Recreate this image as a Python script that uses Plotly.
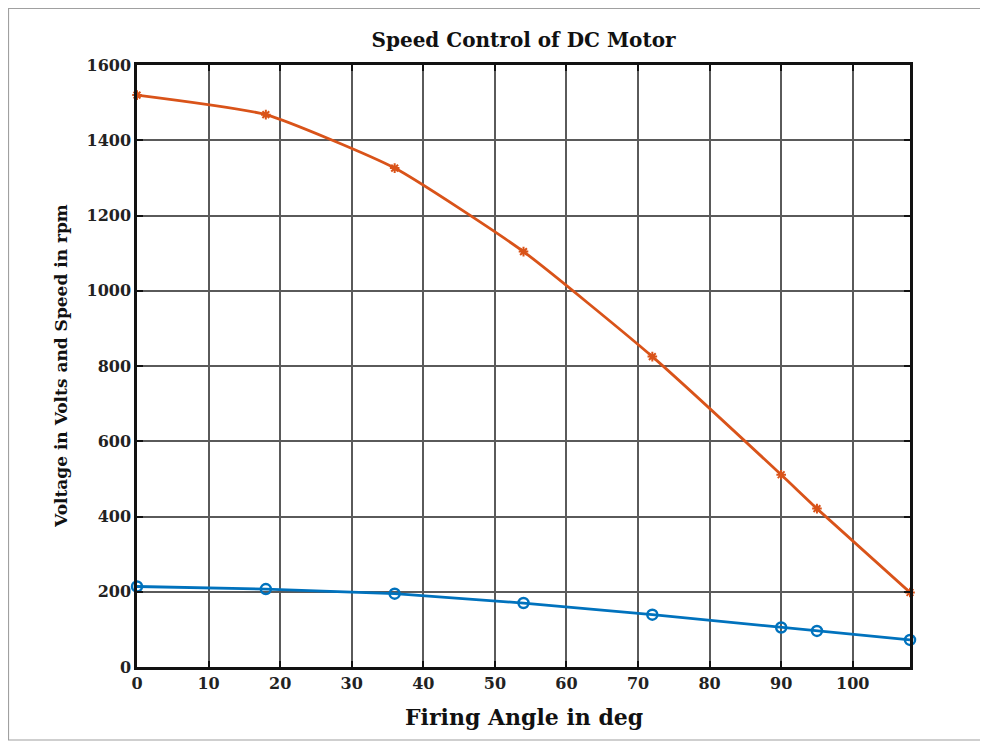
import plotly.graph_objects as go

angle = [0, 18, 36, 54, 72, 90, 95, 108]
speed = [1520, 1468, 1326, 1104, 825, 511, 421, 198]
voltage = [214, 207, 195, 170, 139, 105, 96, 72]
x_ticks = [0, 10, 20, 30, 40, 50, 60, 70, 80, 90, 100]
y_ticks = [0, 200, 400, 600, 800, 1000, 1200, 1400, 1600]

# page body has an 8px margin, so figure coordinates are offset by 8px
W, H = 980, 734
L, R, T, B = 129, 902, 57, 659

font_fam = "DejaVu Serif, Liberation Serif, serif"

fig = go.Figure()
fig.add_trace(go.Scatter(
    x=angle, y=speed, mode="lines+markers",
    line=dict(color="#D95319", width=2.8, shape="spline", smoothing=0.5),
    marker=dict(symbol="asterisk-open", size=8, color="#D95319",
                line=dict(color="#D95319", width=2)),
    showlegend=False, cliponaxis=False))
fig.add_trace(go.Scatter(
    x=angle, y=voltage, mode="lines+markers",
    line=dict(color="#0072BD", width=2.8),
    marker=dict(symbol="circle-open", size=10, color="#0072BD",
                line=dict(color="#0072BD", width=2.5)),
    showlegend=False, cliponaxis=False))

def px(x):
    return (x - L) / (R - L)

def py(y):
    return (B - y) / (B - T)

fig.add_shape(type="rect", xref="paper", yref="paper",
              x0=px(0.5), x1=px(990), y0=py(0.5), y1=py(732),
              line=dict(color="#a0a0a0", width=1.2), layer="below")

fig.add_annotation(text="<b>Firing Angle in deg</b>", xref="paper", yref="paper",
                   x=0.5, y=py(709), xanchor="center", yanchor="middle",
                   showarrow=False, font=dict(size=22, family=font_fam, color="#111"))
fig.add_annotation(text="<b>Voltage in Volts and Speed in rpm</b>", xref="paper", yref="paper",
                   x=px(53), y=0.5, xanchor="center", yanchor="middle", textangle=-90,
                   showarrow=False, font=dict(size=17, family=font_fam, color="#111"))

fig.update_layout(
    width=W, height=H,
    margin=dict(l=L, r=W - R, t=T, b=H - B),
    paper_bgcolor="white", plot_bgcolor="white",
    font=dict(family=font_fam, color="#1a1a1a"),
    title=dict(text="<b>Speed Control of DC Motor</b>", x=(L + R) / 2 / W,
               xanchor="center", y=1 - 32 / H, yanchor="middle",
               font=dict(size=20, family=font_fam, color="#111")),
)
fig.update_xaxes(
    range=[0, 108], tickvals=x_ticks, ticktext=[f"<b>{v}</b>" for v in x_ticks],
    showgrid=True, gridcolor="#5a5a5a", gridwidth=2.2,
    showline=True, linecolor="#111", linewidth=2.5, mirror="ticks",
    ticks="inside", ticklen=6, tickwidth=2, tickcolor="#111",
    tickfont=dict(size=16, family=font_fam, color="#222"),
    zeroline=False)
fig.update_yaxes(
    range=[0, 1600], tickvals=y_ticks, ticktext=[f"<b>{v}</b>" for v in y_ticks],
    showgrid=True, gridcolor="#5a5a5a", gridwidth=2.2,
    showline=True, linecolor="#111", linewidth=2.5, mirror="ticks",
    ticks="inside", ticklen=6, tickwidth=2, tickcolor="#111",
    tickfont=dict(size=16, family=font_fam, color="#222"),
    zeroline=False)

fig.write_html("out.html")
